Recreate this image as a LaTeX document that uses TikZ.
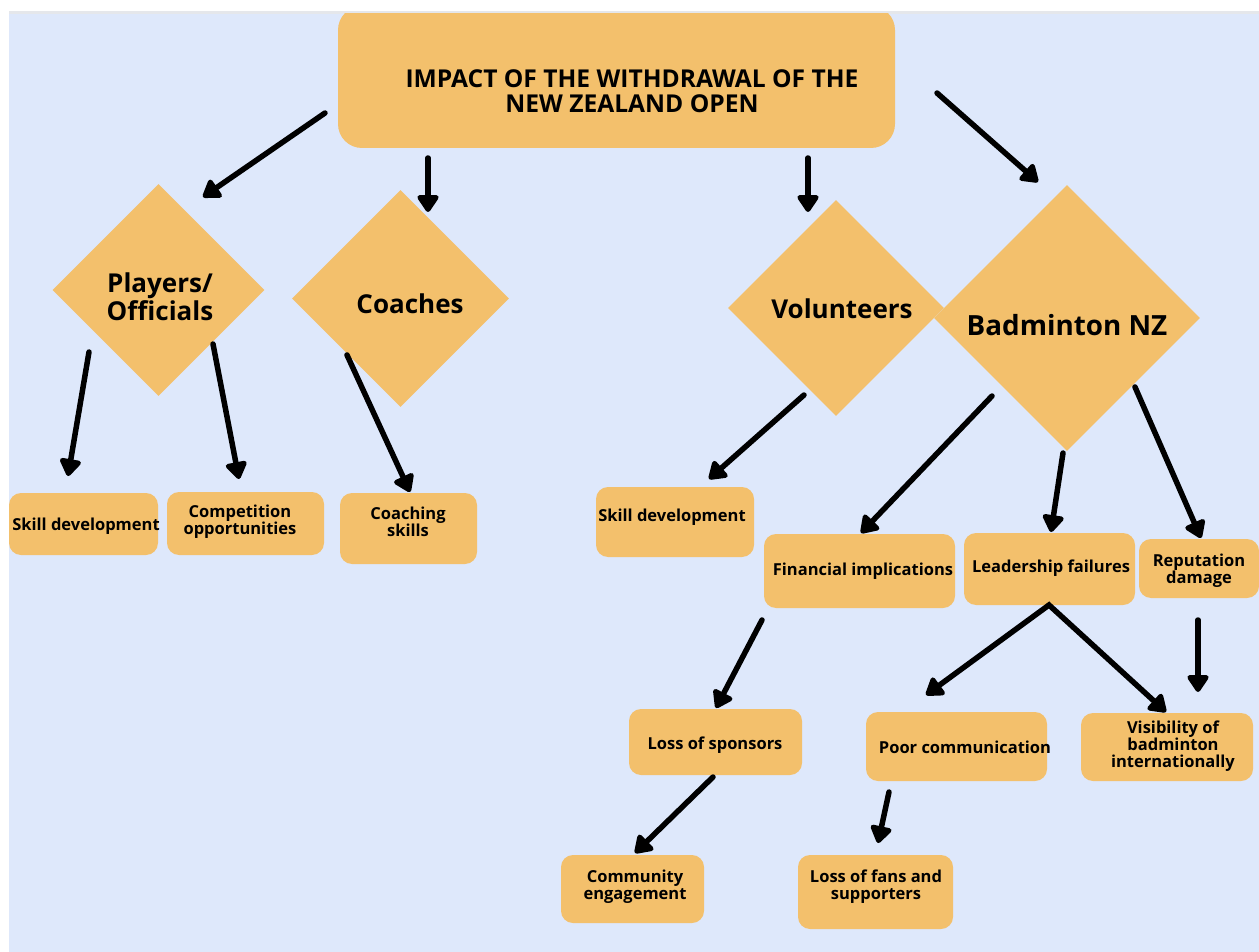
\documentclass[tikz,border=0pt]{standalone}
\usepackage{fontspec}
\setmainfont{Open Sans}
\usetikzlibrary{arrows.meta,shapes.geometric}
\definecolor{bgblue}{RGB}{222,232,251}
\definecolor{boxor}{RGB}{243,192,108}
\definecolor{topgray}{RGB}{229,231,235}
\begin{document}
\begin{tikzpicture}[x=1pt,y=-1pt,
  rbox/.style={fill=boxor, rounded corners=12pt, inner sep=0pt, draw=none},
  dia/.style={diamond, fill=boxor, inner sep=0pt, draw=none, aspect=1},
  smalltxt/.style={font=\bfseries\fontsize{16.5}{17}\selectfont, align=center, inner sep=0pt},
  bigtxt/.style={font=\bfseries\fontsize{26}{28}\selectfont, align=center, inner sep=0pt},
  titletxt/.style={font=\bfseries\fontsize{24.6}{25}\selectfont, align=center, inner sep=0pt},
  tip/.tip={Triangle[width=24pt,length=19pt,round]},
  conn/.style={line width=5.5pt, line cap=round, line join=miter, -tip},
]
\useasboundingbox (0,0) rectangle (1259,952);
\fill[white] (0,0) rectangle (1259,952);
\fill[topgray] (9,11) rectangle (1259,14);
\fill[bgblue] (9,14) rectangle (1259,952);

% title box
\begin{scope}
\clip (9,14) rectangle (1259,952);
\node[rbox, rounded corners=24pt, minimum width=557pt, minimum height=142pt] (title) at (616.5,77) {};
\node[rbox, minimum width=120pt, minimum height=59pt] (rep) at (1199,568.5) {};
\end{scope}
\node[titletxt] (titlet) at (632,91) {IMPACT OF THE WITHDRAWAL OF THE\\NEW ZEALAND OPEN};

% diamonds
\node[dia, minimum width=212pt, minimum height=212pt] (players) at (158.5,290) {};
\node[dia, minimum width=217pt, minimum height=217pt] (coaches) at (400.5,298.5) {};
\node[dia, minimum width=216pt, minimum height=216pt] (volunteers) at (836,308) {};
\node[dia, minimum width=266pt, minimum height=266pt] (bnz) at (1067,318) {};
\node[bigtxt] (playerst) at (160,297) {Players/\\Officials};
\node[bigtxt] (coachest) at (410,304) {Coaches};
\node[bigtxt] (volunteerst) at (842,309) {Volunteers};
\node[bigtxt, font=\bfseries\fontsize{27.8}{28}\selectfont] (bnzt) at (1067,325) {Badminton NZ};

% boxes
\node[rbox, minimum width=149pt, minimum height=62pt] (skillL) at (83.5,524) {};
\node[rbox, minimum width=157pt, minimum height=63pt] (comp) at (245.5,523.5) {};
\node[rbox, minimum width=137pt, minimum height=71pt] (coachsk) at (408.5,528.5) {};
\node[rbox, minimum width=158pt, minimum height=70pt] (skillM) at (675,522) {};
\node[rbox, minimum width=191pt, minimum height=74pt] (fin) at (859.5,571) {};
\node[rbox, minimum width=171pt, minimum height=72pt] (lead) at (1049.5,569) {};
\node[rbox, minimum width=173pt, minimum height=66pt] (spons) at (715.5,742) {};
\node[rbox, minimum width=181pt, minimum height=69pt] (poor) at (956.5,746.5) {};
\node[rbox, minimum width=172pt, minimum height=68pt] (vis) at (1167,747) {};
\node[rbox, minimum width=143pt, minimum height=68pt] (comm) at (632.5,889) {};
\node[rbox, minimum width=155pt, minimum height=74pt] (fans) at (875.5,892) {};

% box texts
\node[smalltxt] (skillLt) at (86,526) {Skill development};
\node[smalltxt] (compt) at (240,522) {Competition\\opportunities};
\node[smalltxt] (coachskt) at (408,522) {Coaching\\skills};
\node[smalltxt] (skillMt) at (672,517) {Skill development};
\node[smalltxt] (fint) at (863,571) {Financial implications};
\node[smalltxt] (leadt) at (1051,568) {Leadership failures};
\node[smalltxt] (rept) at (1199,571) {Reputation\\damage};
\node[smalltxt] (sponst) at (715,745) {Loss of sponsors};
\node[smalltxt] (poort) at (965,747) {Poor communication};
\node[smalltxt] (vist) at (1173,746) {Visibility of\\badminton\\internationally};
\node[smalltxt] (commt) at (635,887) {Community\\engagement};
\node[smalltxt] (fanst) at (876,887) {Loss of fans and\\supporters};

% connector end points
\coordinate (a1s) at (325,113);  \coordinate (a1e) at (203,197);
\coordinate (a2s) at (428,158);  \coordinate (a2e) at (428,212);
\coordinate (a3s) at (808,158);  \coordinate (a3e) at (808,212);
\coordinate (a4s) at (937,93);   \coordinate (a4e) at (1038,182);
\coordinate (a5s) at (89,352);   \coordinate (a5e) at (68,476);
\coordinate (a6s) at (213,344);  \coordinate (a6e) at (239,479);
\coordinate (a7s) at (347,355);  \coordinate (a7e) at (410,492);
\coordinate (a8s) at (804,395);  \coordinate (a8e) at (709,479);
\coordinate (a9s) at (992,396);  \coordinate (a9e) at (861,533);
\coordinate (a10s) at (1063,453); \coordinate (a10e) at (1051,532);
\coordinate (a11s) at (1135,387); \coordinate (a11e) at (1201,538);
\coordinate (a12s) at (1198,620); \coordinate (a12e) at (1198,692);
\coordinate (apex) at (1049,605);
\coordinate (a13e) at (926,695);  \coordinate (a14e) at (1166,712);
\coordinate (a15s) at (762,620); \coordinate (a15e) at (716,708);
\coordinate (a16s) at (713,777); \coordinate (a16e) at (635,853);
\coordinate (a17s) at (889,792); \coordinate (a17e) at (878,843);

\draw[conn] (a1s) -- (a1e);
\draw[conn] (a2s) -- (a2e);
\draw[conn] (a3s) -- (a3e);
\draw[conn] (a4s) -- (a4e);
\draw[conn] (a5s) -- (a5e);
\draw[conn] (a6s) -- (a6e);
\draw[conn] (a7s) -- (a7e);
\draw[conn] (a8s) -- (a8e);
\draw[conn] (a9s) -- (a9e);
\draw[conn] (a10s) -- (a10e);
\draw[conn] (a11s) -- (a11e);
\draw[conn] (a12s) -- (a12e);
\draw[conn, tip-tip] (a13e) -- (apex) -- (a14e);
\draw[conn] (a15s) -- (a15e);
\draw[conn] (a16s) -- (a16e);
\draw[conn] (a17s) -- (a17e);
\end{tikzpicture}
\end{document}
